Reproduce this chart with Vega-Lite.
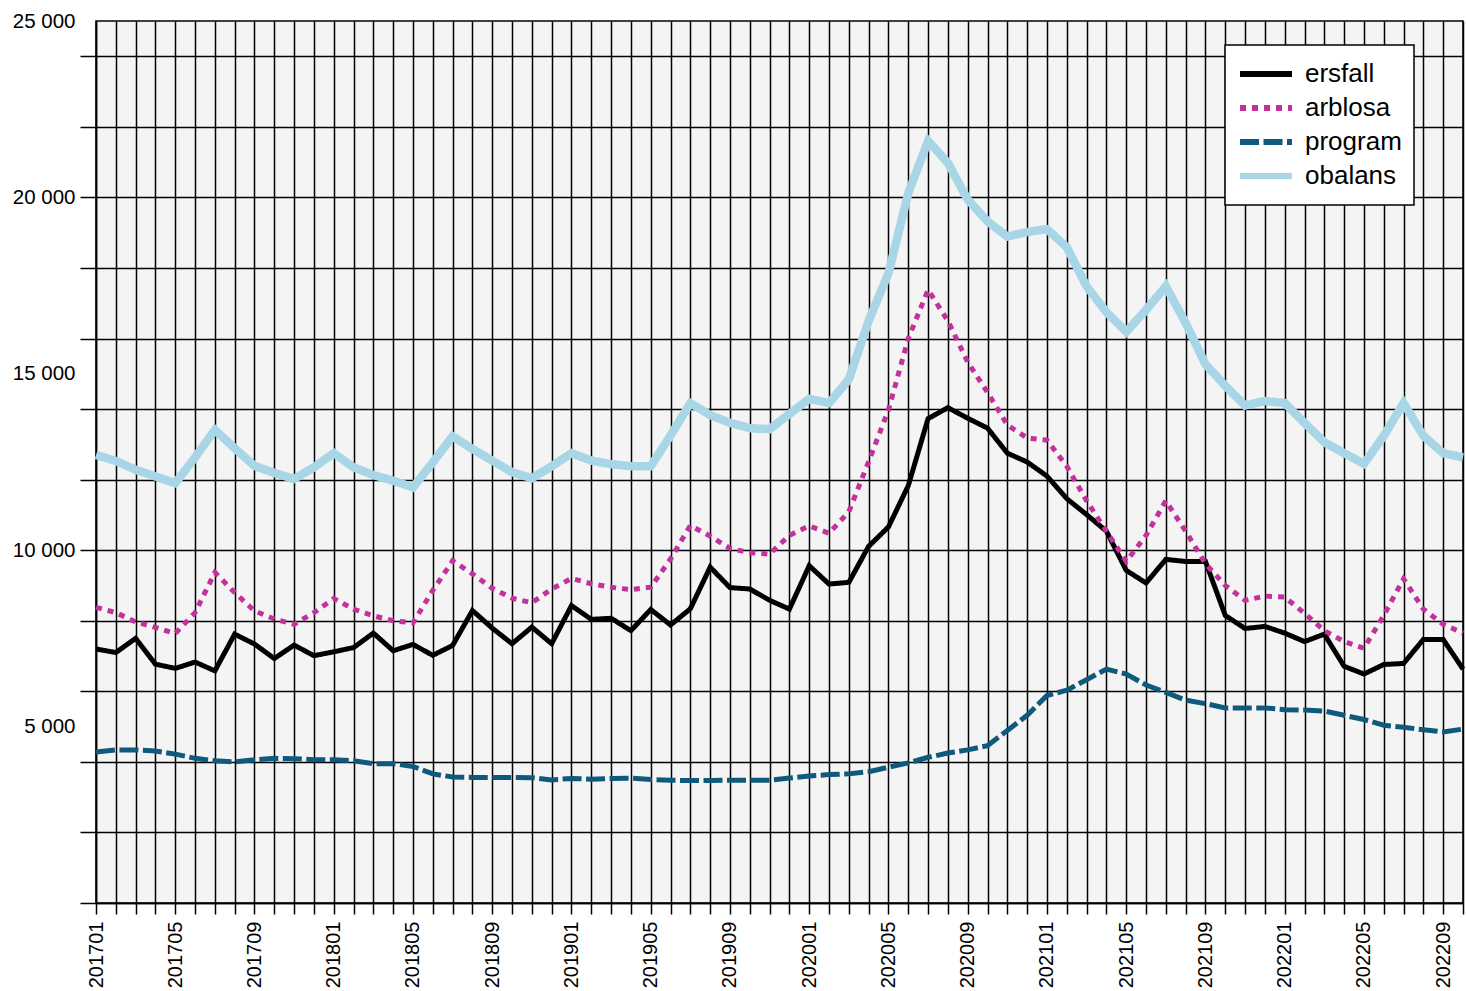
{
  "$schema": "https://vega.github.io/schema/vega-lite/v6.json",
  "width": 1367,
  "height": 882,
  "autosize": {"type": "none"},
  "padding": {"left": 96, "top": 21, "right": 3, "bottom": 88},
  "background": "white",
  "config": {
    "font": "Liberation Sans",
    "view": {"fill": "#f4f4f4", "stroke": "black", "strokeWidth": 1.5},
    "legend": {"strokeWidth": 1.5}
  },
  "data": {"values": [
    {"month":"201701","series":"ersfall","value":7200},{"month":"201702","series":"ersfall","value":7100},{"month":"201703","series":"ersfall","value":7500},{"month":"201704","series":"ersfall","value":6770},{"month":"201705","series":"ersfall","value":6650},{"month":"201706","series":"ersfall","value":6830},{"month":"201707","series":"ersfall","value":6580},{"month":"201708","series":"ersfall","value":7620},{"month":"201709","series":"ersfall","value":7340},{"month":"201710","series":"ersfall","value":6930},{"month":"201711","series":"ersfall","value":7310},{"month":"201712","series":"ersfall","value":7010},
    {"month":"201801","series":"ersfall","value":7120},{"month":"201802","series":"ersfall","value":7240},{"month":"201803","series":"ersfall","value":7650},{"month":"201804","series":"ersfall","value":7150},{"month":"201805","series":"ersfall","value":7330},{"month":"201806","series":"ersfall","value":7020},{"month":"201807","series":"ersfall","value":7300},{"month":"201808","series":"ersfall","value":8290},{"month":"201809","series":"ersfall","value":7790},{"month":"201810","series":"ersfall","value":7350},{"month":"201811","series":"ersfall","value":7820},{"month":"201812","series":"ersfall","value":7350},
    {"month":"201901","series":"ersfall","value":8430},{"month":"201902","series":"ersfall","value":8040},{"month":"201903","series":"ersfall","value":8070},{"month":"201904","series":"ersfall","value":7720},{"month":"201905","series":"ersfall","value":8320},{"month":"201906","series":"ersfall","value":7880},{"month":"201907","series":"ersfall","value":8340},{"month":"201908","series":"ersfall","value":9520},{"month":"201909","series":"ersfall","value":8940},{"month":"201910","series":"ersfall","value":8900},{"month":"201911","series":"ersfall","value":8580},{"month":"201912","series":"ersfall","value":8330},
    {"month":"202001","series":"ersfall","value":9560},{"month":"202002","series":"ersfall","value":9040},{"month":"202003","series":"ersfall","value":9090},{"month":"202004","series":"ersfall","value":10110},{"month":"202005","series":"ersfall","value":10660},{"month":"202006","series":"ersfall","value":11830},{"month":"202007","series":"ersfall","value":13730},{"month":"202008","series":"ersfall","value":14040},{"month":"202009","series":"ersfall","value":13740},{"month":"202010","series":"ersfall","value":13460},{"month":"202011","series":"ersfall","value":12750},{"month":"202012","series":"ersfall","value":12500},
    {"month":"202101","series":"ersfall","value":12100},{"month":"202102","series":"ersfall","value":11460},{"month":"202103","series":"ersfall","value":11010},{"month":"202104","series":"ersfall","value":10540},{"month":"202105","series":"ersfall","value":9430},{"month":"202106","series":"ersfall","value":9070},{"month":"202107","series":"ersfall","value":9740},{"month":"202108","series":"ersfall","value":9680},{"month":"202109","series":"ersfall","value":9680},{"month":"202110","series":"ersfall","value":8150},{"month":"202111","series":"ersfall","value":7780},{"month":"202112","series":"ersfall","value":7840},
    {"month":"202201","series":"ersfall","value":7650},{"month":"202202","series":"ersfall","value":7410},{"month":"202203","series":"ersfall","value":7620},{"month":"202204","series":"ersfall","value":6710},{"month":"202205","series":"ersfall","value":6490},{"month":"202206","series":"ersfall","value":6760},{"month":"202207","series":"ersfall","value":6790},{"month":"202208","series":"ersfall","value":7470},{"month":"202209","series":"ersfall","value":7470},{"month":"202210","series":"ersfall","value":6630},

    {"month":"201701","series":"arblosa","value":8380},{"month":"201702","series":"arblosa","value":8230},{"month":"201703","series":"arblosa","value":7970},{"month":"201704","series":"arblosa","value":7810},{"month":"201705","series":"arblosa","value":7640},{"month":"201706","series":"arblosa","value":8230},{"month":"201707","series":"arblosa","value":9370},{"month":"201708","series":"arblosa","value":8800},{"month":"201709","series":"arblosa","value":8280},{"month":"201710","series":"arblosa","value":8050},{"month":"201711","series":"arblosa","value":7900},{"month":"201712","series":"arblosa","value":8230},
    {"month":"201801","series":"arblosa","value":8630},{"month":"201802","series":"arblosa","value":8330},{"month":"201803","series":"arblosa","value":8140},{"month":"201804","series":"arblosa","value":8000},{"month":"201805","series":"arblosa","value":7940},{"month":"201806","series":"arblosa","value":8860},{"month":"201807","series":"arblosa","value":9700},{"month":"201808","series":"arblosa","value":9330},{"month":"201809","series":"arblosa","value":8920},{"month":"201810","series":"arblosa","value":8640},{"month":"201811","series":"arblosa","value":8510},{"month":"201812","series":"arblosa","value":8900},
    {"month":"201901","series":"arblosa","value":9200},{"month":"201902","series":"arblosa","value":9050},{"month":"201903","series":"arblosa","value":8950},{"month":"201904","series":"arblosa","value":8880},{"month":"201905","series":"arblosa","value":8950},{"month":"201906","series":"arblosa","value":9750},{"month":"201907","series":"arblosa","value":10700},{"month":"201908","series":"arblosa","value":10400},{"month":"201909","series":"arblosa","value":10050},{"month":"201910","series":"arblosa","value":9930},{"month":"201911","series":"arblosa","value":9890},{"month":"201912","series":"arblosa","value":10420},
    {"month":"202001","series":"arblosa","value":10690},{"month":"202002","series":"arblosa","value":10480},{"month":"202003","series":"arblosa","value":11090},{"month":"202004","series":"arblosa","value":12510},{"month":"202005","series":"arblosa","value":13980},{"month":"202006","series":"arblosa","value":16000},{"month":"202007","series":"arblosa","value":17380},{"month":"202008","series":"arblosa","value":16500},{"month":"202009","series":"arblosa","value":15330},{"month":"202010","series":"arblosa","value":14470},{"month":"202011","series":"arblosa","value":13550},{"month":"202012","series":"arblosa","value":13180},
    {"month":"202101","series":"arblosa","value":13120},{"month":"202102","series":"arblosa","value":12380},{"month":"202103","series":"arblosa","value":11400},{"month":"202104","series":"arblosa","value":10540},{"month":"202105","series":"arblosa","value":9680},{"month":"202106","series":"arblosa","value":10420},{"month":"202107","series":"arblosa","value":11400},{"month":"202108","series":"arblosa","value":10540},{"month":"202109","series":"arblosa","value":9620},{"month":"202110","series":"arblosa","value":9000},{"month":"202111","series":"arblosa","value":8580},{"month":"202112","series":"arblosa","value":8700},
    {"month":"202201","series":"arblosa","value":8670},{"month":"202202","series":"arblosa","value":8210},{"month":"202203","series":"arblosa","value":7720},{"month":"202204","series":"arblosa","value":7410},{"month":"202205","series":"arblosa","value":7220},{"month":"202206","series":"arblosa","value":8150},{"month":"202207","series":"arblosa","value":9190},{"month":"202208","series":"arblosa","value":8330},{"month":"202209","series":"arblosa","value":7900},{"month":"202210","series":"arblosa","value":7650},

    {"month":"201701","series":"program","value":4280},{"month":"201702","series":"program","value":4340},{"month":"201703","series":"program","value":4340},{"month":"201704","series":"program","value":4310},{"month":"201705","series":"program","value":4220},{"month":"201706","series":"program","value":4100},{"month":"201707","series":"program","value":4030},{"month":"201708","series":"program","value":4000},{"month":"201709","series":"program","value":4060},{"month":"201710","series":"program","value":4100},{"month":"201711","series":"program","value":4090},{"month":"201712","series":"program","value":4060},
    {"month":"201801","series":"program","value":4060},{"month":"201802","series":"program","value":4030},{"month":"201803","series":"program","value":3950},{"month":"201804","series":"program","value":3950},{"month":"201805","series":"program","value":3870},{"month":"201806","series":"program","value":3660},{"month":"201807","series":"program","value":3570},{"month":"201808","series":"program","value":3560},{"month":"201809","series":"program","value":3560},{"month":"201810","series":"program","value":3560},{"month":"201811","series":"program","value":3550},{"month":"201812","series":"program","value":3490},
    {"month":"201901","series":"program","value":3530},{"month":"201902","series":"program","value":3510},{"month":"201903","series":"program","value":3530},{"month":"201904","series":"program","value":3540},{"month":"201905","series":"program","value":3500},{"month":"201906","series":"program","value":3480},{"month":"201907","series":"program","value":3470},{"month":"201908","series":"program","value":3470},{"month":"201909","series":"program","value":3480},{"month":"201910","series":"program","value":3480},{"month":"201911","series":"program","value":3480},{"month":"201912","series":"program","value":3540},
    {"month":"202001","series":"program","value":3600},{"month":"202002","series":"program","value":3640},{"month":"202003","series":"program","value":3660},{"month":"202004","series":"program","value":3720},{"month":"202005","series":"program","value":3850},{"month":"202006","series":"program","value":3970},{"month":"202007","series":"program","value":4130},{"month":"202008","series":"program","value":4250},{"month":"202009","series":"program","value":4340},{"month":"202010","series":"program","value":4460},{"month":"202011","series":"program","value":4890},{"month":"202012","series":"program","value":5320},
    {"month":"202101","series":"program","value":5880},{"month":"202102","series":"program","value":6030},{"month":"202103","series":"program","value":6330},{"month":"202104","series":"program","value":6630},{"month":"202105","series":"program","value":6490},{"month":"202106","series":"program","value":6180},{"month":"202107","series":"program","value":5970},{"month":"202108","series":"program","value":5750},{"month":"202109","series":"program","value":5650},{"month":"202110","series":"program","value":5530},{"month":"202111","series":"program","value":5530},{"month":"202112","series":"program","value":5530},
    {"month":"202201","series":"program","value":5480},{"month":"202202","series":"program","value":5470},{"month":"202203","series":"program","value":5440},{"month":"202204","series":"program","value":5320},{"month":"202205","series":"program","value":5200},{"month":"202206","series":"program","value":5040},{"month":"202207","series":"program","value":4980},{"month":"202208","series":"program","value":4910},{"month":"202209","series":"program","value":4850},{"month":"202210","series":"program","value":4930},

    {"month":"201701","series":"obalans","value":12700},{"month":"201702","series":"obalans","value":12530},{"month":"201703","series":"obalans","value":12280},{"month":"201704","series":"obalans","value":12090},{"month":"201705","series":"obalans","value":11900},{"month":"201706","series":"obalans","value":12630},{"month":"201707","series":"obalans","value":13410},{"month":"201708","series":"obalans","value":12890},{"month":"201709","series":"obalans","value":12390},{"month":"201710","series":"obalans","value":12190},{"month":"201711","series":"obalans","value":12020},{"month":"201712","series":"obalans","value":12350},
    {"month":"201801","series":"obalans","value":12750},{"month":"201802","series":"obalans","value":12350},{"month":"201803","series":"obalans","value":12130},{"month":"201804","series":"obalans","value":11970},{"month":"201805","series":"obalans","value":11780},{"month":"201806","series":"obalans","value":12490},{"month":"201807","series":"obalans","value":13230},{"month":"201808","series":"obalans","value":12870},{"month":"201809","series":"obalans","value":12540},{"month":"201810","series":"obalans","value":12210},{"month":"201811","series":"obalans","value":12040},{"month":"201812","series":"obalans","value":12380},
    {"month":"201901","series":"obalans","value":12750},{"month":"201902","series":"obalans","value":12540},{"month":"201903","series":"obalans","value":12440},{"month":"201904","series":"obalans","value":12380},{"month":"201905","series":"obalans","value":12380},{"month":"201906","series":"obalans","value":13250},{"month":"201907","series":"obalans","value":14170},{"month":"201908","series":"obalans","value":13830},{"month":"201909","series":"obalans","value":13610},{"month":"201910","series":"obalans","value":13460},{"month":"201911","series":"obalans","value":13430},{"month":"201912","series":"obalans","value":13860},
    {"month":"202001","series":"obalans","value":14290},{"month":"202002","series":"obalans","value":14170},{"month":"202003","series":"obalans","value":14840},{"month":"202004","series":"obalans","value":16500},{"month":"202005","series":"obalans","value":17850},{"month":"202006","series":"obalans","value":20120},{"month":"202007","series":"obalans","value":21600},{"month":"202008","series":"obalans","value":20980},{"month":"202009","series":"obalans","value":19940},{"month":"202010","series":"obalans","value":19320},{"month":"202011","series":"obalans","value":18890},{"month":"202012","series":"obalans","value":19020},
    {"month":"202101","series":"obalans","value":19100},{"month":"202102","series":"obalans","value":18590},{"month":"202103","series":"obalans","value":17480},{"month":"202104","series":"obalans","value":16750},{"month":"202105","series":"obalans","value":16190},{"month":"202106","series":"obalans","value":16810},{"month":"202107","series":"obalans","value":17480},{"month":"202108","series":"obalans","value":16440},{"month":"202109","series":"obalans","value":15270},{"month":"202110","series":"obalans","value":14660},{"month":"202111","series":"obalans","value":14100},{"month":"202112","series":"obalans","value":14230},
    {"month":"202201","series":"obalans","value":14170},{"month":"202202","series":"obalans","value":13610},{"month":"202203","series":"obalans","value":13060},{"month":"202204","series":"obalans","value":12750},{"month":"202205","series":"obalans","value":12450},{"month":"202206","series":"obalans","value":13240},{"month":"202207","series":"obalans","value":14170},{"month":"202208","series":"obalans","value":13240},{"month":"202209","series":"obalans","value":12750},{"month":"202210","series":"obalans","value":12630}
  ]},
  "mark": {"type": "line", "strokeCap": "butt", "strokeJoin": "miter"},
  "encoding": {
    "x": {
      "field": "month", "type": "ordinal",
      "scale": {"type": "point", "padding": 0},
      "axis": {
        "title": null, "grid": true, "gridColor": "black", "gridWidth": 1.5, "gridOpacity": 1,
        "ticks": true, "tickColor": "black", "tickWidth": 1.5, "tickSize": 11,
        "domain": true, "domainColor": "black", "domainWidth": 1.5,
        "labelAngle": -90, "labelAlign": "right", "labelBaseline": "middle",
        "labelPadding": 7, "labelFontSize": 20, "labelColor": "black", "labelFont": "Liberation Sans",
        "labelOverlap": false,
        "labelExpr": "(toNumber(substring(datum.label, 4, 6)) - 1) % 4 == 0 ? datum.label : ''"
      }
    },
    "y": {
      "field": "value", "type": "quantitative",
      "scale": {"domain": [0, 25000], "nice": false, "zero": true},
      "axis": {
        "title": null,
        "values": [0, 2000, 4000, 5000, 6000, 8000, 10000, 12000, 14000, 15000, 16000, 18000, 20000, 22000, 24000, 25000],
        "grid": true, "gridColor": "black", "gridWidth": 1.5,
        "gridOpacity": {"condition": {"test": "datum.value % 2000 == 0 && datum.value < 25000", "value": 1}, "value": 0},
        "ticks": true, "tickColor": "black", "tickWidth": 1.5, "tickSize": 16,
        "tickOpacity": {"condition": {"test": "datum.value % 2000 == 0", "value": 1}, "value": 0},
        "domain": true, "domainColor": "black", "domainWidth": 1.5,
        "labelPadding": 5, "labelFontSize": 20.5, "labelColor": "black", "labelFont": "Liberation Sans",
        "labelOverlap": false,
        "labelExpr": "datum.value % 5000 == 0 && datum.value > 0 ? replace(format(datum.value, ','), ',', ' ') : ''"
      }
    },
    "color": {
      "field": "series", "type": "nominal",
      "scale": {"domain": ["ersfall", "arblosa", "program", "obalans"], "range": ["#000000", "#c4309c", "#0f5a7c", "#a8d6e6"]},
      "legend": {
        "title": null, "orient": "none", "legendX": 1129, "legendY": 24,
        "fillColor": "white", "strokeColor": "black", "padding": 12,
        "labelFontSize": 26, "labelColor": "black", "labelFont": "Liberation Sans", "labelOffset": 10, "labelLimit": 300,
        "symbolType": "stroke", "symbolSize": 2704, "symbolStrokeWidth": 6, "rowPadding": 0, "clipHeight": 34
      }
    },
    "strokeDash": {
      "field": "series", "type": "nominal",
      "scale": {"domain": ["ersfall", "arblosa", "program", "obalans"], "range": [[1, 0], [6, 6], [19, 4.5], [1, 0]]}
    },
    "strokeWidth": {
      "condition": {"test": "datum.series == 'obalans'", "value": 8.5},
      "value": 5
    }
  }
}
